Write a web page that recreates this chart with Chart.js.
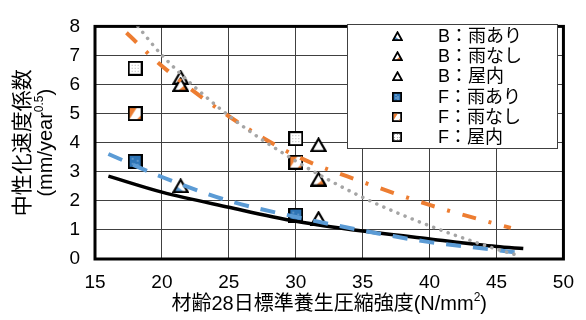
<!DOCTYPE html>
<html>
<head>
<meta charset="utf-8">
<script src="https://cdn.jsdelivr.net/npm/chart.js@4.4.1/dist/chart.umd.min.js"></script>
<style>
html, body { margin: 0; padding: 0; background: #fff; }
#wrap { width: 586px; height: 320px; }
</style>
</head>
<body>
<div id="wrap"><canvas id="c" width="586" height="320"></canvas></div>
<script>
const FONT = '"Liberation Sans", "Noto Sans CJK JP", sans-serif';

// Axis ranges and ticks
const xTicks = [15, 20, 25, 30, 35, 40, 45, 50];
const yTicks = [0, 1, 2, 3, 4, 5, 6, 7, 8];

// Series labels
const seriesLabels = ['B：雨あり', 'B：雨なし', 'B：屋内', 'F：雨あり', 'F：雨なし', 'F：屋内'];

// Measured points (compressive strength, carbonation rate coefficient)
const bRainX = [21.4, 31.7];   const bRainY = [2.52, 1.40];
const bNoRainX = [21.4, 31.7]; const bNoRainY = [6.00, 2.75];
const bIndoorX = [21.4, 31.7]; const bIndoorY = [6.25, 3.93];
const fRainX = [18.0, 30.0];   const fRainY = [3.36, 1.51];
const fNoRainX = [18.0, 30.0]; const fNoRainY = [5.00, 3.33];
const fIndoorX = [18.0, 30.0]; const fIndoorY = [6.56, 4.14];

// Trend curves
const blackTrendX = [16, 20, 25, 30, 35, 40, 45, 47];
const blackTrendY = [2.85, 2.30, 1.78, 1.30, 0.96, 0.69, 0.43, 0.36];
const blueTrendX = [16, 20, 25, 30, 35, 40, 45, 47];
const blueTrendY = [3.61, 2.82, 2.00, 1.45, 0.98, 0.58, 0.31, 0.19];
const orangeTrendX = [17.35, 20, 25, 30, 35, 40, 45, 46.07];
const orangeTrendY = [7.78, 6.64, 4.91, 3.55, 2.65, 1.86, 1.20, 1.07];
const greyTrendX = [18.2, 20, 25, 30, 35, 40, 45, 46.77];
const greyTrendY = [8.00, 7.01, 4.93, 3.37, 2.12, 1.14, 0.34, 0.10];

const BLUE = '#5B9BD5', DARKBLUE = '#2E75B6', ORANGE = '#ED7D31', GREY = '#A5A5A5';

function pts(xs, ys) { return xs.map((x, i) => ({ x: x, y: ys[i] })); }

function makeCanvas(w, h, draw) {
  const c = document.createElement('canvas');
  c.width = w; c.height = h;
  draw(c.getContext('2d'), w, h);
  return c;
}

// Square markers with a patterned fill
function squareMarker(s, kind) {
  return makeCanvas(s, s, (ctx) => {
    const b = s > 12 ? 2 : 1.5;
    const inner = s - 2 * b;
    ctx.fillStyle = '#000';
    ctx.fillRect(0, 0, s, s);
    ctx.save();
    ctx.beginPath();
    ctx.rect(b, b, inner, inner);
    ctx.clip();
    if (kind === 'rain') {
      ctx.fillStyle = DARKBLUE;
      ctx.fillRect(b, b, inner, inner);
      ctx.fillStyle = '#e8f0fa';
      const d = [[0.3, 0.25], [0.7, 0.45], [0.3, 0.7], [0.7, 0.85]];
      d.forEach(p => ctx.fillRect(Math.round(b + p[0] * inner) - 0.5, Math.round(b + p[1] * inner) - 0.5, 1, 1));
    } else if (kind === 'norain') {
      ctx.fillStyle = '#fff';
      ctx.fillRect(b, b, inner, inner);
      ctx.fillStyle = ORANGE;
      ctx.beginPath();
      ctx.moveTo(b, b);
      ctx.lineTo(b + inner * 0.62, b);
      ctx.lineTo(b, b + inner * 0.62 + inner * 0.35);
      ctx.closePath();
      ctx.fill();
      ctx.beginPath();
      ctx.moveTo(s - b, s - b - inner * 0.32);
      ctx.lineTo(s - b, s - b);
      ctx.lineTo(s - b - inner * 0.32, s - b);
      ctx.closePath();
      ctx.fill();
    } else {
      ctx.fillStyle = '#fff';
      ctx.fillRect(b, b, inner, inner);
      ctx.fillStyle = '#B0B0B0';
      for (let i = 0; i < 3; i++) for (let j = 0; j < 3; j++) {
        ctx.fillRect(Math.floor(b + inner * (0.2 + 0.3 * i)), Math.floor(b + inner * (0.2 + 0.3 * j)), 1, 1);
      }
    }
    ctx.restore();
  });
}

// Triangle markers with a partial colour fill
function triangleMarker(w, h, kind) {
  return makeCanvas(w, h, (ctx) => {
    const lw = w > 12 ? 2.2 : 1.8;
    const path = () => {
      ctx.beginPath();
      ctx.moveTo(w / 2, lw * 0.7);
      ctx.lineTo(w - lw * 0.6, h - lw / 2);
      ctx.lineTo(lw * 0.6, h - lw / 2);
      ctx.closePath();
    };
    path();
    ctx.fillStyle = '#fff';
    ctx.fill();
    ctx.save();
    path();
    ctx.clip();
    if (kind === 'rain') {
      ctx.fillStyle = BLUE;
      ctx.beginPath();
      ctx.moveTo(0, h * 0.3); ctx.lineTo(w * 0.8, h); ctx.lineTo(0, h);
      ctx.closePath(); ctx.fill();
    } else if (kind === 'norain') {
      ctx.fillStyle = ORANGE;
      ctx.beginPath();
      ctx.moveTo(w, h * 0.3); ctx.lineTo(w * 0.25, h); ctx.lineTo(w, h);
      ctx.closePath(); ctx.fill();
    }
    ctx.restore();
    path();
    ctx.lineJoin = 'miter';
    ctx.lineWidth = lw;
    ctx.strokeStyle = '#000';
    ctx.stroke();
  });
}

const kinds = [['tri', 'rain'], ['tri', 'norain'], ['tri', 'indoor'], ['sq', 'rain'], ['sq', 'norain'], ['sq', 'indoor']];
const plotMarkers = kinds.map(k => k[0] === 'tri' ? triangleMarker(17, 15, k[1]) : squareMarker(15, k[1]));
const legendMarkers = kinds.map(k => k[0] === 'tri' ? triangleMarker(11, 10, k[1]) : squareMarker(10, k[1]));

const seriesX = [bRainX, bNoRainX, bIndoorX, fRainX, fNoRainX, fIndoorX];
const seriesY = [bRainY, bNoRainY, bIndoorY, fRainY, fNoRainY, fIndoorY];

function trend(xs, ys, color, width, dash, cap) {
  return {
    data: pts(xs, ys), showLine: true, pointRadius: 0, borderColor: color,
    borderWidth: width, borderDash: dash, borderCapStyle: cap || 'butt',
    cubicInterpolationMode: 'monotone', order: 0, isTrend: true
  };
}

const datasets = [
  trend(greyTrendX, greyTrendY, GREY, 3.5, [0.1, 7.6], 'round'),
  trend(orangeTrendX, orangeTrendY, ORANGE, 4, [14, 13, 3, 13]),
  trend(blueTrendX, blueTrendY, BLUE, 4, [15, 12]),
  trend(blackTrendX, blackTrendY, '#000', 3.5, []),
].concat(seriesLabels.map((lab, i) => ({
  label: lab, data: pts(seriesX[i], seriesY[i]), showLine: false,
  pointStyle: plotMarkers[i], pointRadius: 7, pointHoverRadius: 7, order: 1,
  legendIcon: legendMarkers[i]
})));

const decor = {
  id: 'decor',
  beforeDatasetsDraw(chart) {
    const { ctx, chartArea: a } = chart;
    ctx.save();
    ctx.strokeStyle = '#000';
    ctx.lineWidth = 3;
    ctx.strokeRect(a.left, a.top, a.right - a.left, a.bottom - a.top);
    ctx.restore();
  },
  afterDraw(chart) {
    const { ctx, chartArea: a } = chart;
    ctx.save();
    // legend box
    const lx = 347, ly = 24.5, lw = 210, lh = 124;
    ctx.fillStyle = '#fff';
    ctx.fillRect(lx, ly, lw, lh);
    ctx.strokeStyle = '#404040';
    ctx.lineWidth = 1;
    ctx.strokeRect(lx + 0.5, ly, lw, lh);
    ctx.fillStyle = '#000';
    ctx.font = '18px ' + FONT;
    ctx.textBaseline = 'middle';
    ctx.textAlign = 'left';
    chart.data.datasets.filter(d => !d.isTrend).forEach((d, i) => {
      const cy = 36 + i * 20.2;
      const icon = d.legendIcon;
      ctx.drawImage(icon, Math.round(397 - icon.width / 2), Math.round(cy - icon.height / 2));
      ctx.fillText(d.label, 438, cy + 1);
    });

    // x-axis title
    const cx = (a.left + a.right) / 2;
    const big = '20px ' + FONT, small = '12px ' + FONT;
    ctx.font = big;
    const xMain = '材齢28日標準養生圧縮強度(N/mm';
    const wMain = ctx.measureText(xMain).width;
    const wClose = ctx.measureText(')').width;
    ctx.font = small;
    const wSup = ctx.measureText('2').width;
    let x0 = cx - (wMain + wSup + wClose) / 2;
    const ty = 304;
    ctx.font = big;
    ctx.fillText(xMain, x0, ty);
    ctx.font = small;
    ctx.fillText('2', x0 + wMain, ty - 6);
    ctx.font = big;
    ctx.fillText(')', x0 + wMain + wSup, ty);

    // y-axis title (two lines, rotated)
    const yBig = '21px ' + FONT;
    const cy = (a.top + a.bottom) / 2;
    ctx.save();
    ctx.translate(23, cy);
    ctx.rotate(-Math.PI / 2);
    ctx.textAlign = 'center';
    ctx.font = yBig;
    ctx.fillText('中性化速度係数', 0, 0);
    ctx.restore();

    ctx.save();
    ctx.translate(46, cy);
    ctx.rotate(-Math.PI / 2);
    ctx.textAlign = 'left';
    ctx.font = big;
    const yMain = '(mm/year';
    const wy = ctx.measureText(yMain).width;
    ctx.font = small;
    const ws = ctx.measureText('0.5').width;
    ctx.font = big;
    const wc = ctx.measureText(')').width;
    let y0 = -(wy + ws + wc) / 2;
    ctx.fillText(yMain, y0, 0);
    ctx.font = small;
    ctx.fillText('0.5', y0 + wy, -6);
    ctx.font = big;
    ctx.fillText(')', y0 + wy + ws, 0);
    ctx.restore();
    ctx.restore();
  }
};

new Chart(document.getElementById('c'), {
  type: 'scatter',
  data: { datasets: datasets },
  options: {
    responsive: false,
    animation: false,
    devicePixelRatio: 1,
    layout: { padding: { top: 16, right: 20, left: 0, bottom: 0 } },
    plugins: { legend: { display: false }, tooltip: { enabled: false } },
    scales: {
      x: {
        type: 'linear', min: xTicks[0], max: xTicks[xTicks.length - 1],
        afterBuildTicks: (s) => { s.ticks = xTicks.map(v => ({ value: v })); },
        afterFit: (s) => { s.height = 61; },
        ticks: { color: '#000', font: { family: FONT, size: 19 }, padding: 12, maxRotation: 0 },
        grid: { color: '#404040', lineWidth: 1, drawTicks: false },
        border: { display: false }
      },
      y: {
        type: 'linear', min: yTicks[0], max: yTicks[yTicks.length - 1],
        afterBuildTicks: (s) => { s.ticks = yTicks.map(v => ({ value: v })); },
        afterFit: (s) => { s.width = 95; },
        ticks: { color: '#000', font: { family: FONT, size: 19 }, padding: 15 },
        grid: { color: '#404040', lineWidth: 1, drawTicks: false },
        border: { display: false }
      }
    }
  },
  plugins: [decor]
});
</script>
</body>
</html>
